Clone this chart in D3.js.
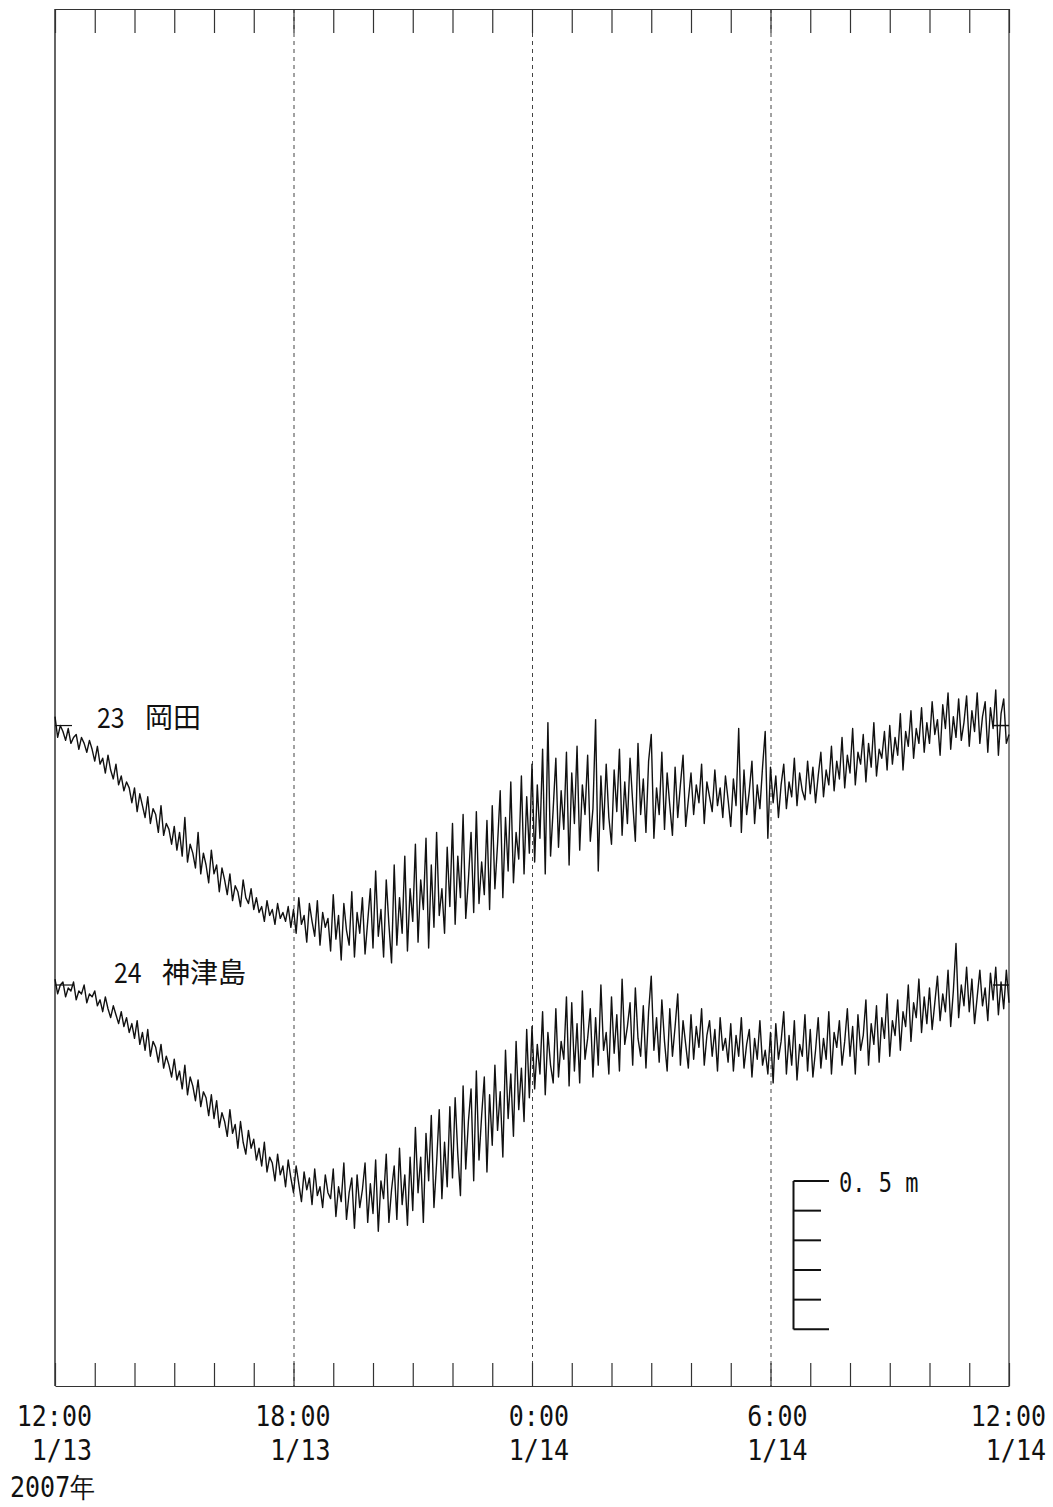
<!DOCTYPE html>
<html><head><meta charset="utf-8">
<script src="https://cdn.jsdelivr.net/npm/d3@7"></script>
<style>
html,body{margin:0;padding:0;background:#fff;}
svg{display:block;}
.mono{font-family:"DejaVu Sans Mono","Liberation Mono",monospace;}
.jp{font-family:"Noto Sans CJK JP","Noto Sans",sans-serif;}
</style>
</head><body>
<script>
// ---------------- data ----------------
const startTime = new Date(2007, 0, 13, 12, 0);
const endTime = new Date(2007, 0, 14, 12, 0);
const stepMinutes = 4;

// sea level deviation (cm) from each station's reference line, every 4 minutes
const okadaValues = [
  3, -4, 0, -2, -5, -1, -6, -4, -3, -8, -4, -6, -9, -5, -8,
  -12, -7, -13, -11, -16, -10, -15, -18, -13, -20, -17, -22, -19, -21, -26,
  -21, -29, -23, -27, -31, -24, -33, -28, -30, -36, -27, -37, -33, -35, -40,
  -34, -42, -36, -44, -31, -46, -40, -43, -48, -36, -50, -43, -47, -53, -42,
  -50, -47, -56, -48, -52, -57, -50, -59, -54, -56, -61, -52, -58, -60, -55,
  -62, -58, -63, -61, -66, -59, -64, -62, -67, -60, -65, -63, -66, -61, -68,
  -62, -70, -58, -67, -64, -73, -60, -66, -71, -59, -74, -63, -68, -65, -76,
  -57, -72, -64, -79, -60, -69, -74, -56, -78, -63, -70, -58, -77, -66, -55,
  -75, -49, -71, -62, -78, -52, -67, -80, -47, -74, -58, -70, -44, -76, -55,
  -66, -40, -73, -52, -62, -38, -75, -47, -68, -36, -64, -55, -70, -41, -61,
  -33, -67, -44, -58, -30, -65, -52, -36, -63, -29, -60, -46, -57, -32, -62,
  -27, -55, -40, -22, -58, -31, -49, -19, -53, -36, -45, -17, -50, -24, -43,
  -13, -46, -20, -38, -8, -50, 1, -44, -28, -11, -41, -22, -35, -9, -47,
  -16, -33, -7, -42, -20, -30, -10, -39, -28, 2, -49, -17, -35, -13, -31,
  -40, -15, -29, -8, -37, -19, -33, -11, -26, -39, -6, -30, -18, -36, -12,
  -3, -38, -21, -30, -9, -35, -16, -27, -37, -14, -31, -20, -10, -34, -25,
  -16, -30, -20, -26, -13, -33, -19, -24, -29, -15, -27, -21, -31, -17, -25,
  -34, -18, -27, -1, -36, -15, -30, -22, -12, -33, -20, -28, -14, -2, -38,
  -14, -26, -17, -31, -20, -13, -28, -19, -24, -11, -27, -16, -22, -25, -12,
  -23, -14, -26, -17, -9, -24, -15, -20, -7, -22, -12, -18, -4, -21, -10,
  -16, -1, -20, -9, -13, -3, -19, -6, -14, 1, -17, -8, -11, -2, -15,
  0, -13, -4, -10, 4, -15, -2, -7, 5, -11, -1, -6, 6, -9, 1,
  -6, 8, -3, 2, -10, 7, -1, 11, -8, 3, -4, 9, -5, 1, 10,
  -7, 5, -2, 11, -6, 3, 8, -9, 6, -1, 12, -10, 4, 9, -6,
  -3
];

const kozushimaValues = [
  2, -3, 0, 1, -4, -1, -2, 1, -5, -2, -3, 0, -6, -3, -4,
  -2, -7, -5, -9, -4, -8, -11, -7, -10, -13, -9, -14, -11, -16, -13,
  -18, -12, -20, -16, -22, -15, -24, -19, -21, -26, -20, -28, -24, -27, -31,
  -25, -32, -29, -35, -27, -37, -31, -34, -39, -32, -41, -36, -38, -44, -37,
  -45, -39, -48, -43, -46, -51, -42, -50, -47, -55, -46, -53, -57, -49, -55,
  -52, -59, -55, -61, -53, -63, -58, -60, -66, -57, -64, -61, -68, -59, -65,
  -70, -61, -67, -73, -63, -69, -65, -74, -62, -71, -68, -75, -64, -70, -72,
  -62, -78, -68, -73, -60, -79, -70, -65, -82, -64, -75, -69, -60, -80, -67,
  -77, -59, -83, -66, -72, -57, -80, -69, -61, -79, -55, -74, -64, -81, -58,
  -76, -48, -70, -58, -80, -50, -66, -44, -75, -60, -42, -72, -53, -68, -41,
  -65, -38, -57, -71, -34, -62, -46, -35, -66, -29, -59, -44, -31, -63, -37,
  -54, -27, -49, -36, -58, -22, -45, -30, -51, -19, -42, -28, -46, -15, -38,
  -14, -35, -20, -30, -9, -37, -16, -27, -33, -8, -31, -19, -25, -4, -34,
  -6, -29, -13, -33, -2, -25, -18, -8, -31, -11, -27, 0, -22, -16, -30,
  -4, -23, -10, -29, 2, -20, -14, -6, -27, -1, -18, -24, -7, -28, -9,
  3, -22, -11, -26, -5, -19, -29, -8, -24, -14, -3, -27, -12, -20, -28,
  -10, -25, -14, -21, -8, -27, -17, -12, -24, -15, -29, -11, -22, -18, -26,
  -13, -29, -17, -24, -11, -28, -20, -15, -31, -18, -25, -12, -27, -22, -30,
  -16, -33, -13, -25, -19, -9, -30, -17, -27, -12, -32, -20, -24, -10, -29,
  -15, -31, -22, -11, -28, -18, -25, -9, -30, -16, -21, -12, -27, -19, -8,
  -24, -14, -30, -10, -22, -17, -5, -27, -13, -20, -7, -26, -11, -18, -3,
  -24, -12, -17, -5, -22, -9, -14, 0, -19, -6, -11, 2, -16, -4, -13,
  -1, -15, -6, 3, -12, -3, -9, 5, -14, -2, 14, -11, 0, -7, 6,
  -9, 2, -13, -4, 5, -7, -1, -12, 4, -5, 6, -10, 1, -8, 5,
  -6
];

const stationNumbers = ["23", "24"];
const stationNames = ["岡田", "神津島"];
const stationOffsets = [2.226, 1.3515];   // reference level of each trace (m, chart units)

const timeLabels = ["12:00", "18:00", "0:00", "6:00", "12:00"];
const dateLabels = ["1/13", "1/13", "1/14", "1/14", "1/14"];
const yearLabel = "2007年";
const scaleTicksM = [0, 0.1, 0.2, 0.3, 0.4, 0.5];
const scaleLabel = "0. 5 m";
const scaleBase = 0.191; // m, bottom of scale bar

// ---------------- layout ----------------
(function () {
const W = 1053, H = 1507;
const pLeft = 55, pRight = 1009, pTop = 9, pBottom = 1386;
const pxPerM = 296.7;
const stretch = 1.12; // tall, narrow label glyphs

const svg = d3.select("body").append("svg").attr("width", W).attr("height", H);

const x = d3.scaleTime().domain([startTime, endTime]).range([pLeft, pRight]);
const y = d3.scaleLinear().domain([0, (pBottom - pTop) / pxPerM]).range([pBottom, pTop]);

const frameColor = "#333";

// dashed 6-hourly lines
const sixHours = d3.timeHour.every(6).range(startTime, endTime).filter(d => +d !== +startTime);
svg.append("g").selectAll("line").data(sixHours).join("line")
  .attr("x1", d => x(d) + 0.5).attr("x2", d => x(d) + 0.5)
  .attr("y1", pTop).attr("y2", pBottom)
  .attr("stroke", "#444").attr("stroke-width", 1).attr("stroke-dasharray", "4,4");

// top & bottom axes (hourly ticks)
const hourTicks = d3.timeHour.every(1).range(startTime, d3.timeMinute.offset(endTime, 1));
const axTop = d3.axisBottom(x).tickValues(hourTicks).tickSize(24).tickSizeOuter(0).tickFormat("");
const axBot = d3.axisTop(x).tickValues(hourTicks).tickSize(23).tickSizeOuter(0).tickFormat("");
const gTop = svg.append("g").attr("transform", `translate(0,${pTop})`).call(axTop);
const gBot = svg.append("g").attr("transform", `translate(0,${pBottom})`).call(axBot);
[gTop, gBot].forEach(g => {
  g.selectAll("path,line").attr("stroke", frameColor).attr("stroke-width", 1.2);
});

// left & right frame
svg.append("line").attr("x1", pLeft).attr("x2", pLeft).attr("y1", pTop).attr("y2", pBottom)
  .attr("stroke", frameColor).attr("stroke-width", 1.5);
svg.append("line").attr("x1", pRight).attr("x2", pRight).attr("y1", pTop).attr("y2", pBottom)
  .attr("stroke", frameColor).attr("stroke-width", 1.2);

// traces
const series = [okadaValues, kozushimaValues];
const line = d3.line().x(d => x(d.t)).y(d => y(d.v));
series.forEach((vals, si) => {
  const pts = vals.map((v, i) => ({ t: d3.timeMinute.offset(startTime, i * stepMinutes), v: stationOffsets[si] + v / 100 }));
  svg.append("path").datum(pts).attr("d", line)
    .attr("fill", "none").attr("stroke", "#111").attr("stroke-width", 1.4).attr("stroke-linejoin", "round");
  const yRef = y(stationOffsets[si]);
  svg.append("line").attr("x1", pLeft).attr("x2", pLeft + 17).attr("y1", yRef).attr("y2", yRef)
    .attr("stroke", "#111").attr("stroke-width", 1.2);
  svg.append("line").attr("x1", pRight - 16).attr("x2", pRight).attr("y1", yRef).attr("y2", yRef)
    .attr("stroke", "#111").attr("stroke-width", 1.5);
});

// station labels
const labelPos = [{nx: 97, kx: 145, dy: 2}, {nx: 114, kx: 162, dy: -2}];
series.forEach((vals, si) => {
  const yRef = y(stationOffsets[si]) + labelPos[si].dy;
  svg.append("text").attr("class", "jp")
    .attr("transform", `translate(${labelPos[si].nx},${yRef}) scale(0.92,1.05)`)
    .attr("font-size", 27).attr("fill", "#111").text(stationNumbers[si]);
  svg.append("text").attr("class", "jp").attr("x", labelPos[si].kx).attr("y", yRef)
    .attr("font-size", 28).attr("fill", "#111").text(stationNames[si]);
});

// scale bar
const sbX = 793.5;
const gs = svg.append("g");
gs.append("line").attr("x1", sbX).attr("x2", sbX)
  .attr("y1", y(scaleBase)).attr("y2", y(scaleBase + 0.5))
  .attr("stroke", "#111").attr("stroke-width", 2);
gs.selectAll("line.t").data(scaleTicksM).join("line").attr("class", "t")
  .attr("x1", sbX).attr("x2", (d, i) => (i === 0 || i === scaleTicksM.length - 1) ? 829 : 821)
  .attr("y1", d => y(scaleBase + d)).attr("y2", d => y(scaleBase + d))
  .attr("stroke", "#111").attr("stroke-width", 2);
gs.append("text").attr("class", "mono")
  .attr("transform", `translate(839,${y(scaleBase + 0.5) + 11}) scale(1,${stretch * 1.1})`)
  .attr("font-size", 22).attr("fill", "#111").text(scaleLabel);

// time labels (right-aligned to tick + 37 px)
const labelTimes = d3.timeHour.every(6).range(startTime, d3.timeMinute.offset(endTime, 1));
const gl = svg.append("g").attr("class", "mono").attr("fill", "#111").attr("font-size", 25).attr("text-anchor", "end");
gl.selectAll("text.tl").data(labelTimes).join("text").attr("class", "tl")
  .attr("transform", d => `translate(${x(d) + 37},1426) scale(1,${stretch})`)
  .text((d, i) => timeLabels[i]);
gl.selectAll("text.dl").data(labelTimes).join("text").attr("class", "dl")
  .attr("transform", d => `translate(${x(d) + 37},1460) scale(1,${stretch})`)
  .text((d, i) => dateLabels[i]);
svg.append("text").attr("class", "mono")
  .attr("transform", `translate(10,1497) scale(1,${stretch})`)
  .attr("font-size", 25).attr("fill", "#111").text(yearLabel);
})();
</script>
</body></html>
